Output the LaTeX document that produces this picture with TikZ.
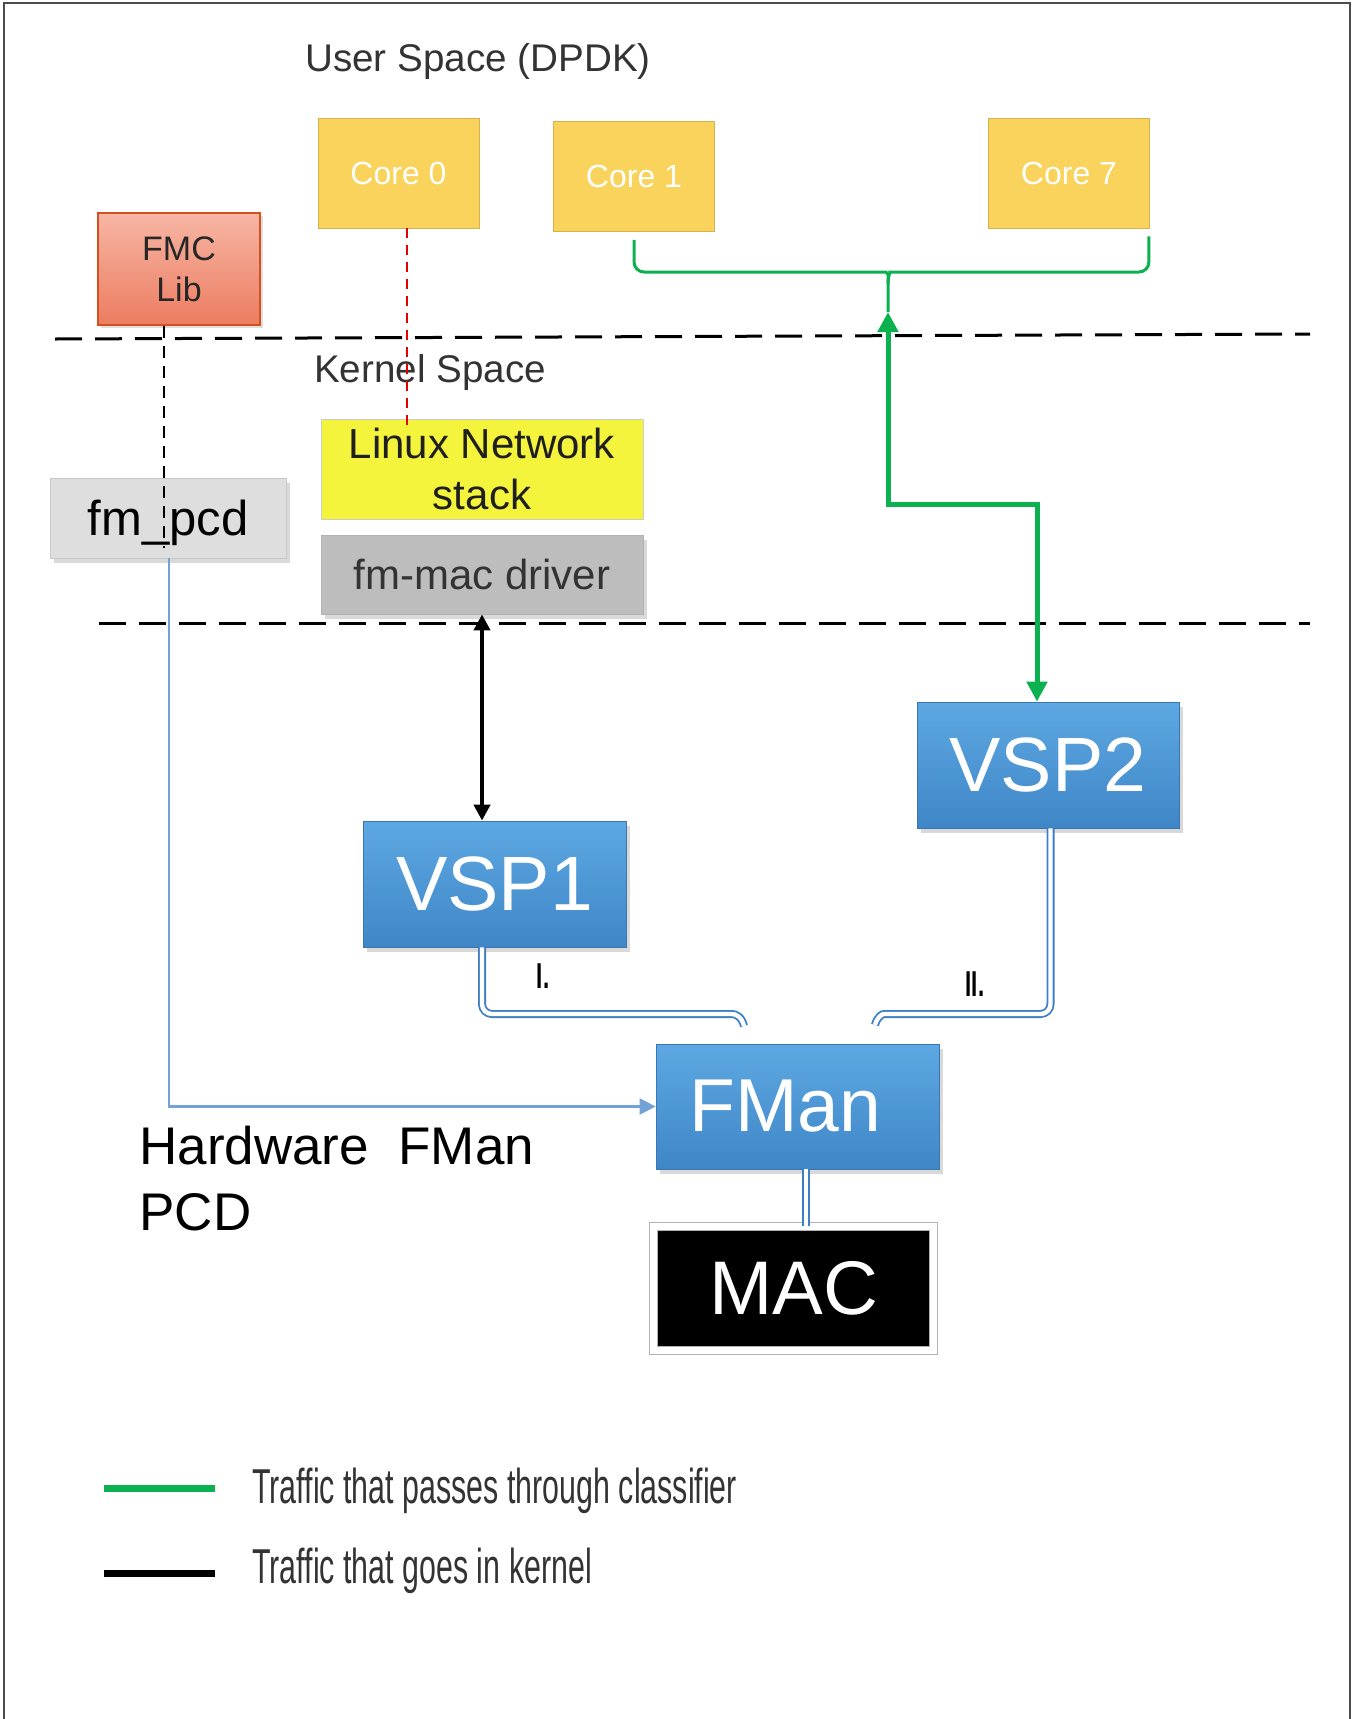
\documentclass[tikz,border=0pt]{standalone}
\usepackage{fontspec}
\setmainfont{Liberation Sans}
\newfontfamily\narrowfont[FakeStretch=0.62]{Liberation Sans}
\usetikzlibrary{arrows.meta,shadows}
\definecolor{coreyellow}{HTML}{F9D35C}
\definecolor{fmctop}{HTML}{F7B6A4}
\definecolor{fmcbot}{HTML}{EC7C60}
\definecolor{fmcedge}{HTML}{D4501E}
\definecolor{linuxyellow}{HTML}{F4F43C}
\definecolor{vsptop}{HTML}{5DA8E2}
\definecolor{vspbot}{HTML}{3F86C7}
\definecolor{vspedge}{HTML}{3A76B2}
\definecolor{pathblue}{HTML}{3D7FC4}
\definecolor{lightblue}{HTML}{72A2D6}
\definecolor{trafficgreen}{HTML}{0BB04F}
\definecolor{textgray}{HTML}{333333}

\begin{document}
\begin{tikzpicture}[x=0.5pt,y=-0.5pt,
  corebox/.style={fill=coreyellow, draw=coreyellow!85!black, text=white, inner sep=0pt,
    minimum width=80.5pt, minimum height=55pt, font=\fontsize{16}{19}\selectfont},
  vspbox/.style={draw=vspedge, top color=vsptop, bottom color=vspbot, text=white, inner sep=0pt,
    drop shadow={opacity=0.3,shadow xshift=2pt,shadow yshift=-2.5pt},
    font=\fontsize{38.5}{44}\selectfont},
  graybox/.style={inner sep=0pt, align=center, text=textgray,
    drop shadow={opacity=0.3,shadow xshift=2pt,shadow yshift=-2.5pt}},
  spacetext/.style={text=textgray, inner sep=0pt, font=\fontsize{19.3}{23}\selectfont},
  sepline/.style={line width=1.5pt, dash pattern=on 13.5pt off 6.5pt},
  greenline/.style={draw=trafficgreen, line width=2.5pt},
  dblue/.style={draw=pathblue, double=white, line width=0.9pt, double distance=2.2pt},
  legendtext/.style={anchor=west, inner sep=0pt, text=textgray,
    font=\narrowfont\fontsize{24.5}{29}\selectfont}]

\useasboundingbox (0,0) rectangle (1352,1719);
\draw[black!70, line width=1.2pt] (4,1719) -- (4,3) -- (1350,3) -- (1350,1719);

% spaces
\node[spacetext] (user) at (478,62) {User Space (DPDK)};
\draw[sepline] (55,339) -- (1310,334);
\node[spacetext] (kernel) at (430,373) {Kernel Space};
\draw[sepline] (99,623) -- (1310,623);

% cores
\node[corebox] (core0) at (398.5,173) {Core 0};
\node[corebox] (core1) at (634,176.5) {Core 1};
\node[corebox] (core7) at (1069,173) {Core 7};

\node[top color=fmctop, bottom color=fmcbot, draw=fmcedge, line width=1.2pt,
  minimum width=81pt, minimum height=56pt, inner sep=0pt, align=center,
  text=black!85, font=\fontsize{17}{20.5}\selectfont,
  drop shadow={opacity=0.25,shadow xshift=1.5pt,shadow yshift=-1.5pt}] (fmc) at (179,269) {FMC\\Lib};

% kernel boxes
\node[fill=linuxyellow, draw=black!20, minimum width=161pt, minimum height=50pt, inner sep=0pt,
  align=center, text=black!88, font=\fontsize{21}{25.5}\selectfont] (linux) at (482,469) {Linux Network\\stack};
\node[graybox, fill=black!26, draw=black!30, minimum width=161pt, minimum height=39.5pt,
  font=\fontsize{21}{25}\selectfont] (fmmac) at (482,574.5) {fm-mac driver};
\node[graybox, fill=black!13, draw=black!22, minimum width=118pt, minimum height=40pt,
  text depth=0pt, text=black, font=\fontsize{24.5}{29}\selectfont] (fmpcd) at (168,518) {fm\_pcd};

% hardware
\node[vspbox, minimum width=131.5pt, minimum height=63pt] (vsp1) at (494.5,884) {VSP1};
\node[vspbox, minimum width=131pt, minimum height=63pt] (vsp2) at (1048,765) {VSP2};
\node[vspbox, minimum width=141.5pt, minimum height=62.5pt, font=\fontsize{37.5}{44}\selectfont] (fman) at (797.5,1106.5) {\hspace*{-12pt}FMan};
\node[fill=black, draw=black!30, double=white, line width=0.5pt, double distance=3.5pt,
  minimum width=139.75pt, minimum height=61.75pt, inner sep=0pt, text=white,
  font=\fontsize{38}{44}\selectfont,
  drop shadow={opacity=0.3,shadow xshift=1.5pt,shadow yshift=-2pt}] (mac) at (793.5,1288.5) {MAC};

\node[anchor=west, align=left, inner sep=0pt, font=\fontsize{26.5}{33}\selectfont] (hw) at (139,1179) {Hardware~~FMan\\PCD};
\node[inner sep=0pt, font=\narrowfont\bfseries\fontsize{18}{20}\selectfont] (lab1) at (543,976) {I.};
\node[inner sep=0pt, font=\narrowfont\bfseries\fontsize{18}{20}\selectfont] (lab2) at (975,984) {II.};

% links
\draw[red!90!black, line width=1.4pt, dash pattern=on 5pt off 3.5pt]
  ([xshift=4.25pt]core0.south) -- ([xshift=-37.5pt,yshift=-4.5pt]linux.north);
\draw[line width=1.1pt, dash pattern=on 6pt off 4pt]
  ([xshift=-7.5pt]fmc.south) -- ([xshift=-2pt,yshift=-15pt]fmpcd.center);
\draw[lightblue, line width=1.2pt, -{Triangle[length=8pt,width=8pt]}]
  ([xshift=0.5pt]fmpcd.south) |- (fman.west);
\draw[line width=2pt, {Triangle[length=8pt,width=8pt]}-{Triangle[length=8pt,width=8pt]}]
  (fmmac.south) -- (fmmac.south |- vsp1.north);

% green traffic
\coordinate (brace) at (888,312);
\draw[greenline, line width=1.5pt, rounded corners=5pt]
  ([yshift=-4pt]core1.south) |- (876,272) .. controls (885,272) and (888,274) .. (888,284) -- (brace);
\draw[greenline, line width=1.5pt, rounded corners=5pt]
  ([xshift=-0.5pt,yshift=-4pt]core7.south east) |- (900,272) .. controls (891,272) and (888,274) .. (888,284);
\draw[greenline, {Triangle[length=10pt,width=10pt]}-{Triangle[length=10pt,width=10pt]}]
  (brace) -- ++(0,192) -| ([xshift=-5.5pt]vsp2.north);

% ports
\draw[dblue, rounded corners=5pt] ([xshift=-6.25pt]vsp1.south) |- (722,1014)
  .. controls (736,1014) and (742,1017) .. (744,1026);
\draw[dblue, rounded corners=5pt] ([xshift=1.25pt]vsp2.south) |- (894,1014)
  .. controls (882,1014) and (877,1017) .. (875,1025);
\draw[dblue] ([xshift=4.25pt]fman.south) -- ([xshift=4.25pt]fman.south |- mac.north);

% legend
\node[legendtext] (leg1) at (252,1491) {Traffic that passes through classifier};
\node[legendtext] (leg2) at (252,1571) {Traffic that goes in kernel};
\draw[greenline, line width=3.5pt] ([xshift=-18.5pt,yshift=1.5pt]leg1.west) -- ++(-111,0);
\draw[line width=3.5pt] ([xshift=-18.5pt,yshift=-1pt]leg2.west) -- ++(-111,0);

\end{tikzpicture}
\end{document}
